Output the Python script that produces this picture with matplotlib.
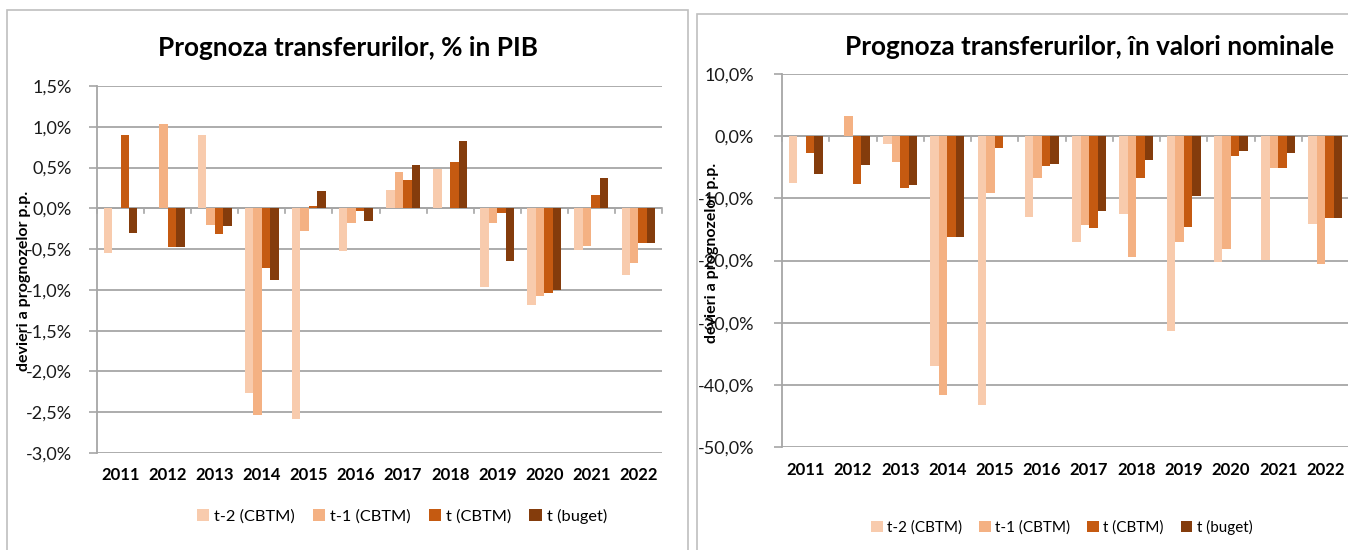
import numpy as np
import matplotlib
matplotlib.use("Agg")
import matplotlib.pyplot as plt
from matplotlib.patches import Rectangle
from matplotlib.ticker import FuncFormatter

plt.rcParams['font.family'] = ['Lato', 'DejaVu Sans']

years = ['2011', '2012', '2013', '2014', '2015', '2016',
         '2017', '2018', '2019', '2020', '2021', '2022']
series = ['t-2 (CBTM)', 't-1 (CBTM)', 't (CBTM)', 't (buget)']
colors = ['#F8CBAD', '#F4B183', '#C55A11', '#843C0C']

# deviations, % of GDP (left chart)
pib_t2 = [-0.55, 0.0, 0.90, -2.27, -2.58, -0.52, 0.22, 0.48, -0.96, -1.18, -0.51, -0.82]
pib_t1 = [0.0, 1.03, -0.20, -2.53, -0.28, -0.18, 0.44, 0.0, -0.18, -1.07, -0.46, -0.67]
pib_t = [0.90, -0.47, -0.32, -0.73, 0.03, -0.03, 0.35, 0.57, -0.06, -1.04, 0.16, -0.43]
pib_b = [-0.30, -0.47, -0.22, -0.88, 0.21, -0.15, 0.53, 0.82, -0.65, -1.00, 0.37, -0.43]

# deviations, nominal values, % (right chart)
nom_t2 = [-7.5, 0.0, -1.3, -36.9, -43.2, -13.0, -17.0, -12.6, -31.3, -20.3, -19.9, -14.2]
nom_t1 = [0.0, 3.3, -4.1, -41.6, -9.2, -6.7, -14.3, -19.5, -17.1, -18.2, -5.1, -20.5]
nom_t = [-2.7, -7.7, -8.4, -16.3, -1.9, -4.8, -14.8, -6.8, -14.6, -3.2, -5.2, -13.1]
nom_b = [-6.1, -4.7, -7.8, -16.3, 0.0, -4.5, -12.1, -3.9, -9.6, -2.4, -2.7, -13.1]

W, H = 1348, 550
fig = plt.figure(figsize=(W / 100, H / 100), dpi=100)

grid_c = '#A6A6A6'

# panel frames
fig.patches.append(Rectangle((7 / W, -0.05), (688 - 7) / W, 1.05 - 10 / H,
                             transform=fig.transFigure, fill=False,
                             edgecolor='#BFBFBF', linewidth=1.2))
fig.patches.append(Rectangle((697 / W, -0.05), 0.6, 1.05 - 14 / H,
                             transform=fig.transFigure, fill=False,
                             edgecolor='#BFBFBF', linewidth=1.2))


def draw(rect, data, yticks, fmt, title, title_xy, ylabel_xy, legend_xy,
         label_y, pad, leg_size):
    ax = fig.add_axes(rect)
    x = np.arange(len(years))
    w = 0.18
    for i, vals in enumerate(data):
        ax.bar(x + (i - 1.5) * w, vals, width=w, color=colors[i],
               label=series[i], zorder=3, linewidth=0)
    ax.set_xlim(-0.5, len(years) - 0.5)
    ax.set_ylim(yticks[0], yticks[-1])
    ax.set_yticks(yticks)
    ax.yaxis.set_major_formatter(FuncFormatter(fmt))
    ax.yaxis.grid(True, color=grid_c, linewidth=1.3, zorder=0)
    ax.set_axisbelow(True)
    for s in ['top', 'right', 'bottom']:
        ax.spines[s].set_visible(False)
    ax.spines['left'].set_color(grid_c)
    ax.spines['left'].set_linewidth(1.3)
    ax.tick_params(axis='y', length=6, color=grid_c, width=1.2,
                   labelsize=13, labelcolor='#1a1a1a', pad=pad)
    # category axis crossing at zero, ticks between categories
    ax.axhline(0, color=grid_c, linewidth=1.3, zorder=2)
    ax.set_xticks(np.arange(len(years) + 1) - 0.5)
    ax.set_xticklabels([])
    ax.tick_params(axis='x', length=0)
    for xb in np.arange(len(years) + 1) - 0.5:
        ax.plot([xb, xb], [0, -(yticks[-1] - yticks[0]) * 0.013],
                color=grid_c, linewidth=1.2, zorder=2, clip_on=False)
    for xi, yr in zip(x, years):
        ax.text(xi, label_y, yr, transform=ax.get_xaxis_transform(),
                ha='center', va='center', fontsize=12, fontweight='bold')
    fig.text(title_xy[0] / W, 1 - title_xy[1] / H, title, ha='center',
             va='center', fontsize=18.8, fontweight='bold')
    fig.text(ylabel_xy[0] / W, 1 - ylabel_xy[1] / H, 'devieri a prognozelor p.p.',
             rotation=90, ha='center', va='center', fontsize=11.5, fontweight='bold')
    handles, labels = ax.get_legend_handles_labels()
    fig.legend(handles, labels, loc='center', ncol=4, frameon=False,
               bbox_to_anchor=(legend_xy[0] / W, 1 - legend_xy[1] / H),
               fontsize=leg_size, handlelength=0.75, handleheight=0.75,
               handletextpad=0.3, columnspacing=1.1)
    return ax


draw([97 / W, 1 - 453 / H, 565 / W, (453 - 86) / H],
     [pib_t2, pib_t1, pib_t, pib_b],
     [-3.0, -2.5, -2.0, -1.5, -1.0, -0.5, 0.0, 0.5, 1.0, 1.5],
     lambda v, p: ('%.1f%%' % v).replace('.', ','),
     'Prognoza transferurilor, % in PIB', (348, 48), (24, 281), (402, 516),
     -0.06, 12, 11.8)

draw([782 / W, 1 - 447 / H, 567 / W, (447 - 74) / H],
     [nom_t2, nom_t1, nom_t, nom_b],
     [-50, -40, -30, -20, -10, 0, 10],
     lambda v, p: ('%.1f%%' % v).replace('.', ','),
     'Prognoza transferurilor, în valori nominale', (1090, 47), (712, 253), (1062, 527),
     -0.062, 14, 11)

fig.savefig('out.png', dpi=100)
